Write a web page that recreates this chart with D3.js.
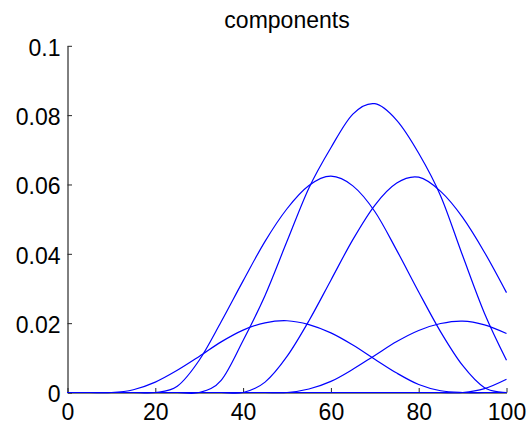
<!DOCTYPE html>
<html>
<head>
<meta charset="utf-8">
<script src="https://cdn.jsdelivr.net/npm/d3@7"></script>
<style>
  html, body { margin: 0; padding: 0; background: #ffffff; }
  svg { display: block; font-family: "Liberation Sans", Arial, Helvetica, sans-serif; }
</style>
</head>
<body>
<svg id="chart" width="531" height="428"></svg>
<script>
// Sample positions shared by every component
const xGrid = [0, 5, 10, 15, 20, 25, 30, 35, 40, 45, 50, 55, 60, 65, 70, 75, 80, 85, 90, 95, 100];

// Component values at each sample position
const comp1 = [0, 0, 0, 0.0008, 0.0030, 0.0064, 0.0104, 0.0146, 0.0180, 0.0201, 0.0207, 0.0196, 0.0172, 0.0137, 0.0096, 0.0056, 0.0023, 0.0005, 0, 0, 0];
const comp2 = [0, 0, 0, 0, 0, 0.0018, 0.0093, 0.0204, 0.0322, 0.0436, 0.0530, 0.0597, 0.0624, 0.0596, 0.0522, 0.0410, 0.0290, 0.0175, 0.0078, 0.0014, 0];
const comp3 = [0, 0, 0, 0, 0, 0, 0, 0.0035, 0.0150, 0.0280, 0.0436, 0.0590, 0.0706, 0.0803, 0.0833, 0.0785, 0.0690, 0.0567, 0.0395, 0.0228, 0.0093];
const comp4 = [0, 0, 0, 0, 0, 0, 0, 0, 0, 0.0030, 0.0104, 0.0207, 0.0324, 0.0441, 0.0540, 0.0604, 0.0621, 0.0580, 0.0505, 0.0404, 0.0288];
const comp5 = [0, 0, 0, 0, 0, 0, 0, 0, 0, 0, 0, 0.0010, 0.0032, 0.0067, 0.0107, 0.0147, 0.0179, 0.0199, 0.0206, 0.0195, 0.0170];
const comp6 = [0, 0, 0, 0, 0, 0, 0, 0, 0, 0, 0, 0, 0, 0, 0, 0, 0, 0, 0, 0.0011, 0.0038];

const xTicks = [0, 20, 40, 60, 80, 100];
const xTickLabels = ["0", "20", "40", "60", "80", "100"];
const yTicks = [0, 0.02, 0.04, 0.06, 0.08, 0.1];
const yTickLabels = ["0", "0.02", "0.04", "0.06", "0.08", "0.1"];
const titleText = "components";

const components = [comp1, comp2, comp3, comp4, comp5, comp6];

const svg = d3.select("#chart");
const fontSize = 23;

const x = d3.scaleLinear().domain([0, 100]).range([67.5, 506.5]);
const y = d3.scaleLinear().domain([0, 0.1]).range([392.5, 45.8]);

// Axes: left and bottom only, ticks pointing inward
const yAxis = d3.axisLeft(y)
  .tickValues(yTicks)
  .tickFormat((d, i) => yTickLabels[i])
  .tickSizeInner(-4.5)
  .tickSizeOuter(0)
  .tickPadding(7);

const xAxis = d3.axisBottom(x)
  .tickValues(xTicks)
  .tickFormat((d, i) => xTickLabels[i])
  .tickSizeInner(-4.5)
  .tickSizeOuter(0)
  .tickPadding(11);

const gy = svg.append("g").attr("transform", "translate(" + x(0) + ",0)").call(yAxis);
const gx = svg.append("g").attr("transform", "translate(0," + y(0) + ")").call(xAxis);

[gx, gy].forEach(g => {
  g.select(".domain").attr("stroke", "#000").attr("stroke-width", 1);
  g.selectAll(".tick line").attr("stroke", "#262626").attr("stroke-width", 1);
  g.selectAll(".tick text")
    .attr("fill", "#000")
    .style("font-size", fontSize + "px")
    .style("font-family", "\"Liberation Sans\", Arial, Helvetica, sans-serif");
});
gy.selectAll(".tick text").attr("dy", "0.40em");
gx.selectAll(".tick text").attr("dy", "0.71em");

// Component curves (smooth cardinal spline through the samples)
const line = d3.line()
  .x((d, i) => x(xGrid[i]))
  .y(d => y(d))
  .curve(d3.curveCardinal.tension(0));

svg.append("g")
  .selectAll("path")
  .data(components)
  .join("path")
  .attr("d", d => line(d))
  .attr("fill", "none")
  .attr("stroke", "#0000ff")
  .attr("stroke-width", 1.2);

// Title
svg.append("text")
  .attr("x", (x(0) + x(100)) / 2)
  .attr("y", 28)
  .attr("text-anchor", "middle")
  .attr("fill", "#000")
  .style("font-size", fontSize + "px")
  .text(titleText);
</script>
</body>
</html>
